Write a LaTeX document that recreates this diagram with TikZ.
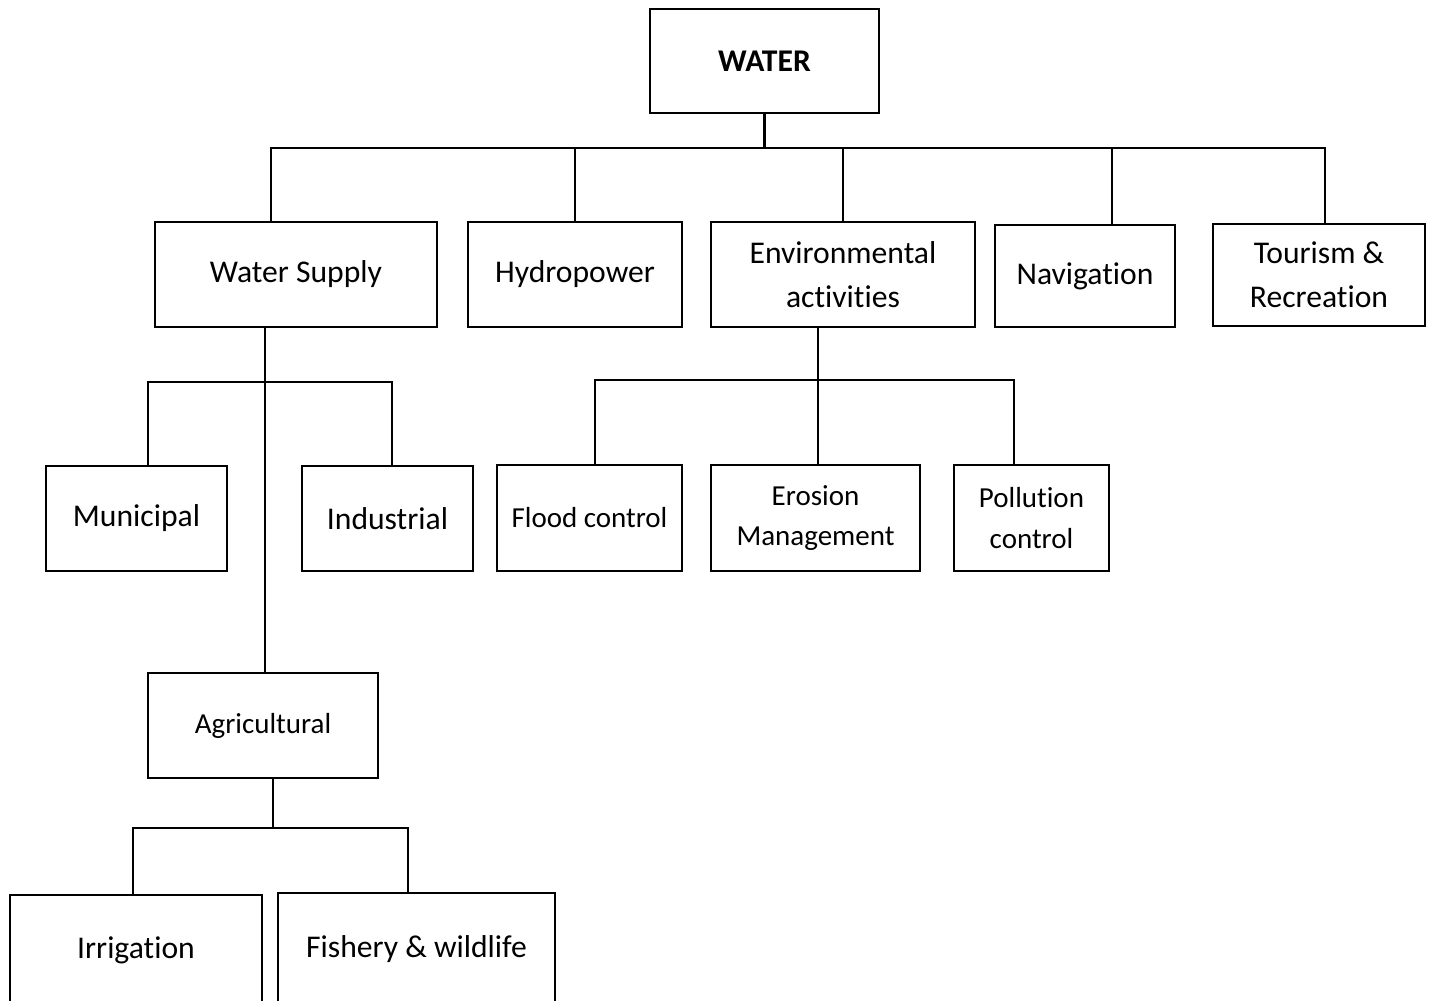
\documentclass[tikz,border=0pt]{standalone}
\usepackage{fontspec}
\setmainfont{Carlito}[Ligatures=NoCommon]
\begin{document}
\begin{tikzpicture}[x=0.02cm, y=-0.02cm, line width=1.6pt,
    box/.style={draw, inner sep=0pt, align=center, font=\fontsize{18}{25}\selectfont},
    smallbox/.style={box, font=\fontsize{16.5}{23}\selectfont},
    size/.style 2 args={minimum width=#1*0.02cm, minimum height=#2*0.02cm}]
    % page size
    \useasboundingbox (0, 0) rectangle (1432, 1000);

    % Top box
    \node[box, size={229}{104}, font=\fontsize{18}{22}\selectfont\bfseries] (water) at (764.5, 61) {WATER};

    % First level
    \node[box, size={282}{105}] (supply) at (296, 274.5) {Water Supply};
    \node[box, size={214}{105}] (hydro) at (575, 274.5) {Hydropower};
    \node[box, size={264}{105}] (env) at (843, 274.5) {Environmental\\activities};
    \node[box, size={180}{102}] (nav) at (1085, 276) {Navigation};
    \node[box, size={212}{102}] (tour) at (1319, 275) {Tourism \&\\Recreation};

    % Water supply uses
    \node[box, size={181}{105}] (muni) at (136.5, 518.5) {Municipal};
    \node[box, size={171}{105}] (ind) at (387.5, 518.5) {Industrial};
    \node[smallbox, size={230}{105}] (agri) at (263, 725.5) {Agricultural};
    \node[box, size={252}{110}] (irr) at (136, 950) {Irrigation};
    \node[box, size={277}{112}] (fish) at (416.5, 949) {Fishery \& wildlife};

    % Environmental activities
    \node[smallbox, size={185}{106}] (flood) at (589.5, 518) {Flood control};
    \node[smallbox, size={209}{106}] (eros) at (815.5, 518) {Erosion\\Management};
    \node[smallbox, size={155}{106}] (poll) at (1031.5, 518) {Pollution\\control};

    % Bus under WATER
    \coordinate (busL) at (271, 148);
    \coordinate (busR) at (1325, 148);
    \coordinate (busN) at (1112, 148);
    \draw (water.south) -- (water.south |- busL);
    \draw (busL |- supply.north) |- (busR) -- (busR |- tour.north);
    \draw (hydro.north) -- (hydro.north |- busL);
    \draw (env.north) -- (env.north |- busL);
    \draw (busN) -- (busN |- nav.north);

    % Bus under Water Supply
    \coordinate (supL) at (148, 382);
    \coordinate (supR) at (392, 382);
    \coordinate (supM) at (265, 382);
    \draw (supL |- muni.north) |- (supR) -- (supR |- ind.north);
    \draw (supM |- supply.south) -- (supM |- agri.north);

    % Bus under Agricultural
    \coordinate (agrL) at (133, 828);
    \coordinate (agrR) at (408, 828);
    \coordinate (agrM) at (273, 828);
    \draw (agrL |- irr.north) |- (agrR) -- (agrR |- fish.north);
    \draw (agrM |- agri.south) -- (agrM);

    % Bus under Environmental activities
    \coordinate (envL) at (595, 380);
    \coordinate (envR) at (1014, 380);
    \coordinate (envM) at (818, 380);
    \draw (envL |- flood.north) |- (envR) -- (envR |- poll.north);
    \draw (envM |- env.south) -- (envM |- eros.north);
\end{tikzpicture}
\end{document}
